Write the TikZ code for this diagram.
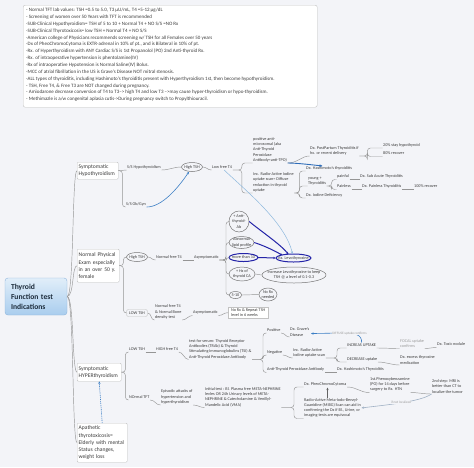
\documentclass[tikz,border=0pt]{standalone}
\usepackage{fontspec}
\setmainfont{Carlito}
\usetikzlibrary{arrows.meta,calc}
\definecolor{bg}{HTML}{F3F4F8}
\definecolor{linec}{HTML}{959595}
\definecolor{txtc}{HTML}{3C3C3C}
\definecolor{boxc}{HTML}{C2C2C2}
\definecolor{grayt}{HTML}{9A9A9A}
\definecolor{relb}{HTML}{3D7FC5}
\definecolor{blueA}{HTML}{2D6CB8}
\definecolor{darkb}{HTML}{2424A8}
\definecolor{lightb}{HTML}{8DB8DE}
\definecolor{relg}{HTML}{9FB0C4}
\definecolor{rootT}{HTML}{E1EEF9}
\definecolor{rootB}{HTML}{A9CDEE}
\definecolor{rootbd}{HTML}{8FB5DC}
\definecolor{roottx}{HTML}{1C2B3A}
\newcommand\sfz{\fontsize{4.2}{5.3}\selectfont}
\begin{document}
\begin{tikzpicture}[x=1pt,y=-1pt,
  t/.style={font=\sfz, text=txtc, inner xsep=0.5pt, inner ysep=0.6pt, anchor=south west, text depth=1.0pt},
  tm/.style={font=\sfz, text=txtc, inner xsep=0.5pt, inner ysep=0.6pt, anchor=south west, align=left},
  elt/.style={font=\sfz, text=txtc, inner sep=0pt, align=center},
  elline/.style={draw=txtc!70, line width=0.5pt},
  elblue/.style={draw=darkb, line width=1pt},
  conn/.style={draw=linec, line width=0.45pt},
  br/.style={conn, rounded corners=3pt},
  l1/.style={draw=boxc, fill=white, rounded corners=1pt, anchor=north west, font=\fontsize{5.6}{7.1}\selectfont, text=txtc, align=left, inner xsep=1.5pt, inner ysep=0pt},
  tip/.style={-{Stealth[length=2.6pt,width=2.2pt]}}
]
\fill[bg] (0,0) rectangle (474,467);
\useasboundingbox (0,0) rectangle (474,467);

% notes box
\node[draw=boxc, fill=white, rounded corners=2pt, anchor=north west, minimum width=294, minimum height=102, inner sep=0] (notes) at (23,5) {};
\node[anchor=north west, inner sep=0, align=left, font=\fontsize{5.0}{6.85}\selectfont, text=txtc] (notestxt) at (26,8) {- Normal TFT lab values: TSH =0.5 to 5.0, T3 µU/mL, T4 =5-12 µg/dL\\
- Screening of women over 50 Years with TFT is recommended\\
-SUB-Clinical Hypothyroidism= TSH of 5 to 10 + Normal T4 + NO S/S =NO Rx\\
-SUB-Clinical Thyrotoxicosis= low TSH + Normal T4 + NO S/S\\
-American college of Physicians recommends screening w/ TSH for all Females over 50 years\\
-Dx of PheoChromoCytoma is EXTR-adrenal in 10\% of pt., and is Bilateral in 10\% of pt.\\
-Rx. of Hyperthyroidism with ANY Cardiac S/S is 1st Propanolol (PO) 2nd Anti-thyroid Rx.\\
-Rx. of intraoperative hypertension is phentolamine(IV)\\
-Rx of intraoperative Hypotension is Normal Saline(IV) Bolus.\\
-MCC of atrial fibrillation in the US is Grave's Disease NOT mitral stenosis.\\
-ALL types of thyroiditis, including Hashimoto's thyroiditis present with Hyperthyroidism 1st, then become hypothyroidism.\\
- TSH, Free T4, \& Free T3 are NOT changed during pregnancy.\\
- Amiodarone decrease conversion of T4 to T3--> high T4 and low T3 -->may cause hyper-thyroidism or hypo-thyroidism.\\
- Methimazle is a/w congenital aplasia cutis->During pregnancy switch to Propylthiouracil.};

% root
\node[draw=rootbd, top color=rootT, bottom color=rootB, rounded corners=3pt, minimum width=62, minimum height=37, text width=50, align=left, font=\bfseries\fontsize{7.6}{10}\selectfont, text=roottx, inner sep=0] (root) at (36,296.5) {Thyroid\\Function test\\Indications};

% level 1 boxes
\node[l1, minimum width=41, minimum height=17, text width=38] (hypo) at (77,162) {Symptomatic\\Hypothyroidism};
\node[l1, minimum width=42, minimum height=33, text width=39] (npe) at (77,249) {Normal Physical\\Exam especially\\in an over 50 y.\\female};
\node[l1, minimum width=44, minimum height=18, text width=41] (hyper) at (77,363) {Symptomatic\\HYPERthyroidism};
\node[l1, minimum width=50, minimum height=39, text width=47] (apa) at (77,423) {Apathetic\\thyrotoxicosis=\\Elderly with mental\\Status changes,\\weight loss};

\draw[conn] (root.east) .. controls (74,296.5) and (72,170.5) .. (hypo.west);
\draw[conn] (root.east) .. controls (74,296.5) and (72,265.5) .. (npe.west);
\draw[conn] (root.east) .. controls (74,296.5) and (72,372) .. (hyper.west);
\draw[conn] (root.east) .. controls (74,296.5) and (72,442.5) .. (apa.west);
\draw[relb, line width=0.6pt, dash pattern=on 1.2pt off 0.9pt, tip] (apa.north) -- (hyper.south);

% ---------- Symptomatic Hypothyroidism
\node[t] (sshypo) at (126.5,170) {S/S Hypothyroidism};
\node[t] (ssob) at (125.5,207) {S/S Ob/Gyn};
\node[elt, minimum width=21, minimum height=9] (htsh1) at (192,167) {High TSH};
\node[t] (lft4) at (211.5,170) {Low free T4};
\node[tm] (anti) at (252.5,163) {positive anti-\\microsomal (aka\\Anti-Thyroid\\Peroxidase\\Antibody=anti-TPO)};
\node[tm] (incr1) at (252.5,193) {Inc. Radio-Active Iodine\\uptake scan= Diffuse\\reduction in thyroid\\uptake};
\node[tm] (pp) at (309.5,156) {Dx. PostPartum Thyroiditis if\\hx. or recent delivery};
\node[t] (s20) at (382.5,148) {20\% stay hypothyroid};
\node[t] (s80) at (382.5,156.5) {80\% recover};
\node[t] (hash1) at (305.5,171) {Dx. Hashimoto's thyroiditis};
\node[tm] (young) at (307.5,186) {young +\\Thyroiditis};
\node[t] (iod) at (305.5,198) {Dx. Iodine Deficiency};
\node[t] (painful) at (336.5,179.5) {painful};
\node[t] (painless) at (336.5,189.5) {Painless};
\node[t] (subac) at (359.5,179.5) {Dx. Sub Acute Thyroiditis};
\node[t] (pless) at (361.5,189.5) {Dx. Painless Thyroiditis};
\node[t] (rec100) at (413.5,189.5) {100\% recover};

\draw[conn] (hypo.east) -- (sshypo.south west);
\draw[br] (hypo.east) -- ++(4,0) |- (ssob.south west);
\draw[conn] (sshypo.south east) .. controls +(8,0) and +(-8,0) .. (htsh1.west);
\draw[conn] (htsh1.east) .. controls +(4,0) and +(-4,0) .. (lft4.south west);
\draw[br] (lft4.south east) -- ++(9,0) |- (anti.south west);
\draw[br] (lft4.south east) -- ++(9,0) |- (incr1.south west);
\draw[conn] (anti.south east) .. controls +(10,0) and +(-8,0) .. (pp.south west);
\draw[br] (pp.south east) -- ++(8,0) |- (s20.south west);
\draw[br] (pp.south east) -- ++(8,0) |- (s80.south west);
\draw[br] (incr1.south east) -- ++(5,0) |- (hash1.south west);
\draw[br] (incr1.south east) -- ++(5,0) |- (young.south west);
\draw[br] (incr1.south east) -- ++(5,0) |- (iod.south west);
\draw[br] (young.south east) -- ++(5,0) |- (painful.south west);
\draw[br] (young.south east) -- ++(5,0) |- (painless.south west);
\draw[conn] (painful.south east) -- (subac.south west);
\draw[conn] (painless.south east) -- (pless.south west);
\draw[conn] (pless.south east) -- (rec100.south west);
\draw[relb, line width=0.6pt, tip] (ssob.south east) .. controls (162,207) and (178,188) .. ($(htsh1.south)+(-3,0)$);
\draw[blueA, line width=0.9pt, -{Stealth[length=3pt,width=2.6pt]}] (anti.south east) .. controls +(10,0) and +(-10,-1) .. ($(hash1.north west)+(17,0.5)$);

% ---------- Normal Physical Exam
\node[elt, minimum width=21, minimum height=9] (htsh2) at (137,257) {High TSH};
\node[elt, draw=boxc, rounded corners=2pt, minimum width=21, minimum height=7] (ltsh2) at (137,313) {LOW TSH};
\node[t] (nft4a) at (155.5,260) {Normal free T4};
\node[t] (asym1) at (193.5,260) {Asymptomatic};
\node[elt, minimum width=20, minimum height=21] (ab) at (239,221.5) {+ Anti-\\thyroid-\\Ab};
\node[elt, minimum width=25, minimum height=12] (lip) at (241.5,242.5) {Abnormal\\lipid profile};
\node[elt, minimum width=29, minimum height=8] (m10) at (243.5,257.5) {more than 10};
\node[elt, minimum width=26, minimum height=14] (hx) at (242,274) {+ Hx of\\thyroid CA};
\node[elt, minimum width=13, minimum height=7] (r510) at (235.5,295) {5-10};
\node[elt, minimum width=35, minimum height=8] (rxlevo) at (293.5,258) {Rx. Levothyroxine};
\node[elt, minimum width=64, minimum height=16] (inclevo) at (294,275) {Increase Levothyroxine to keep\\TSH @ a level of 0.1-0.3};
\node[elt, minimum width=18, minimum height=13] (norx) at (268,294.5) {No Rx\\needed};
\foreach \n/\a/\b in {htsh1/10.5/4.5,htsh2/10.5/4.5,ab/10/10.5,lip/12.5/6,hx/13/7,r510/6.5/3.5,inclevo/32/8,norx/9/6.5}
  \draw[elline] (\n.center) ellipse [x radius=\a, y radius=\b];
\draw[elblue] (m10.center) ellipse [x radius=14.5, y radius=4];
\draw[elblue] (rxlevo.center) ellipse [x radius=17.5, y radius=4];

\node[tm] (nft4b) at (154.5,320) {Normal free T4\\\& Normal Bone\\density test};
\node[t] (asym2) at (192.5,315.5) {Asymptomatic};
\node[draw=boxc, fill=white, anchor=north west, minimum width=40, minimum height=11, inner xsep=1.5pt, inner ysep=0.5pt, align=left, font=\sfz, text=txtc] (norx6) at (228,307) {No Rx \& Repeat TSH\\level in 6 weeks};

\draw[br] (npe.east) -- ++(4,0) |- (htsh2.west);
\draw[br] (npe.east) -- ++(4,0) |- (ltsh2.west);
\draw[conn] (htsh2.east) .. controls +(4,0) and +(-4,0) .. (nft4a.south west);
\draw[conn] (nft4a.south east) -- (asym1.south west);
\foreach \n in {ab,lip,m10,hx,r510}
  \draw[br] (asym1.south east) -- (226,260) |- (\n.west);
\draw[conn] (hx.east) -- (inclevo.west);
\draw[conn] (r510.east) -- (norx.west);
\draw[conn] (ltsh2.east) .. controls +(4,0) and +(-4,0) .. (nft4b.south west);
\draw[conn] (nft4b.south east) .. controls +(4,0) and +(-4,0) .. (asym2.south west);
\draw[conn] (asym2.south east) .. controls +(5,0) and +(-5,0) .. (norx6.west);
\draw[darkb, line width=1pt, tip] (ab.east) .. controls (262,232) and (280,244) .. ($(rxlevo.north)+(-5,0.5)$);
\draw[darkb, line width=1pt, tip] (lip.east) .. controls (265,246) and (275,251) .. ($(rxlevo.north)+(-11,1.5)$);
\draw[darkb, line width=1pt, tip] (m10.east) -- (rxlevo.west);
\draw[lightb, line width=0.5pt, tip] ($(lft4.south)+(2,0)$) .. controls (245,190) and (285,222) .. ($(rxlevo.north)+(-1,0)$);

% ---------- Symptomatic HYPERthyroidism
\node[t] (ltsh3) at (128.5,352) {LOW TSH};
\node[t] (ntft) at (128.5,400) {NOrmal TFT};
\node[t] (hft4) at (155.5,352) {HIGH free T4};
\node[tm] (tser) at (188.5,359.5) {test for serum: Thyroid Receptor\\Antibodies (TRAb) \& Thyroid\\Stimulating Immunoglobulins (TSI) \&\\Anti-Thyroid Peroxidase Antibody};
\node[t] (pos) at (266.5,333) {Positive};
\node[t] (neg) at (266.5,355) {Negative};
\node[t] (atpo) at (266.5,372.5) {Anti-Thyroid Peroxidase Antibody};
\node[tm] (grave) at (289.5,337) {Dx. Grave's\\Disease};
\node[tm] (incr2) at (292.5,358) {Inc. Radio-Active\\Iodine uptake scan};
\node[t] (incu) at (346.5,348) {INCREAS UPTAKE};
\node[t] (decu) at (346.5,362) {DECREASE uptake};
\node[tm, text=grayt] (focal) at (399.5,348.5) {FOCAL uptake\\confirms};
\node[t] (toxic) at (436.5,347.5) {Dx. Toxic nodule};
\node[tm] (excess) at (399.5,365) {Dx. excess thyroxine\\medication};
\node[t] (hash2) at (336.5,372.5) {Dx. Hashimoto's Thyroiditis};

\draw[br] (hyper.east) -- ++(4,0) |- (ltsh3.south west);
\draw[br] (hyper.east) -- ++(4,0) |- (ntft.south west);
\draw[conn] (ltsh3.south east) -- (hft4.south west);
\draw[conn] (hft4.south east) .. controls +(4,0) and +(-4,0) .. (tser.south west);
\draw[br] (tser.south east) -- (263,359.5) |- (pos.south west);
\draw[br] (tser.south east) -- (263,359.5) |- (neg.south west);
\draw[br] (tser.south east) -- (263,359.5) |- (atpo.south west);
\draw[conn] (pos.south east) .. controls +(4,0) and +(-4,0) .. (grave.south west);
\draw[conn] (neg.south east) .. controls +(4,0) and +(-4,0) .. (incr2.south west);
\draw[br] (incr2.south east) -- (337,358) |- (incu.south west);
\draw[br] (incr2.south east) -- (337,358) |- (decu.south west);
\draw[conn] (incu.south east) .. controls +(8,0) and +(-8,0) .. (focal.south west);
\draw[conn] (focal.south east) .. controls +(5,0) and +(-5,0) .. (toxic.south west);
\draw[conn] (decu.south east) .. controls +(8,0) and +(-8,0) .. (excess.south west);
\draw[conn] (atpo.south east) -- (hash2.south west);
\draw[relb, line width=0.6pt, tip] (incu.north) .. controls (362,334) and (355,333) .. (340,333) -- ($(grave.east)+(1,1.5)$);
\node[font=\fontsize{3.4}{4}\selectfont, text=grayt, fill=bg, inner sep=0.3pt] (difflab) at (349.5,333.5) {DIFFUSE uptake confirms};

\node[tm] (ep) at (160.5,405) {Episodic attacks of\\hypertension and\\hyperthyroidism};
\node[tm] (init) at (204.5,407.5) {Initial test : Bl. Plasma free META-NEPHRINE\\levles OR 24h Urinary levels of META-\\NEPHRINE \& Catecholamine \& Venillyl-\\Mandelic Acid (VMA)};
\node[t] (pheo) at (303.5,387) {Dx. PheoChromoCytoma};
\node[tm] (mibg) at (303.5,418.5) {Radio-Active Meta-Iodo-Benzyl-\\Guanidine (MIBG) Scan can aid in\\confirming the Dx if Bl., Urine, or\\imaging tests are equivocal};
\node[tm] (phen) at (369.5,392.5) {1st.Phenoxybenzamine\\(PO) for 14 days before\\surgery to Rx. HTN};
\node[tm] (mri) at (431.5,394) {2nd step: MRI is\\better than CT to\\localize the tumor};

\draw[conn] (ntft.south east) .. controls +(5,0) and +(-5,0) .. (ep.south west);
\draw[conn] (ep.south east) .. controls +(5,0) and +(-5,0) .. (init.south west);
\draw[br] (init.south east) -- (294,407.5) |- (pheo.south west);
\draw[br] (init.south east) -- (294,407.5) |- (mibg.south west);
\draw[conn] (pheo.south east) .. controls +(10,0) and +(-10,0) .. (phen.south west);
\draw[conn] (phen.south east) .. controls +(8,0) and +(-8,0) .. (mri.south west);
\draw[txtc!80, line width=0.6pt, tip] ($(mibg.north west)+(24,1)$) -- ($(pheo.south west)+(24,0.5)$);
\draw[relg, line width=0.6pt, tip] (mri.south west) .. controls (420,402) and (385,405) .. (mibg.east);
\node[font=\fontsize{3.4}{4}\selectfont, text=grayt, fill=bg, inner sep=0.3pt] (notloc) at (401,402.5) {if not localized};
\end{tikzpicture}
\end{document}
